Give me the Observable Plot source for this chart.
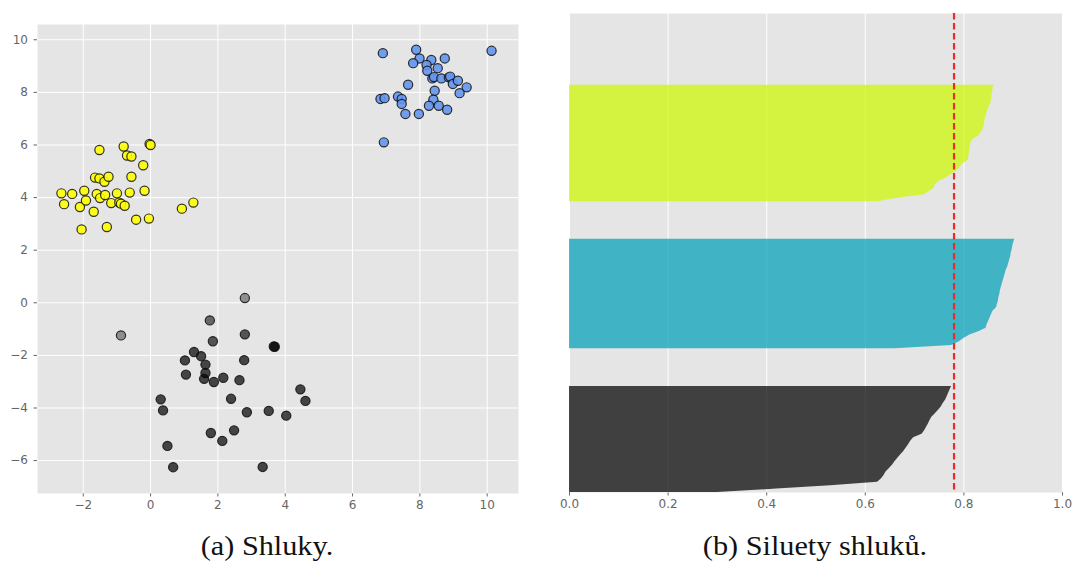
<!DOCTYPE html>
<html>
<head>
<meta charset="utf-8">
<script src="https://cdn.jsdelivr.net/npm/d3@7"></script>
<script src="https://cdn.jsdelivr.net/npm/@observablehq/plot@0.6"></script>
<style>
  body { margin: 0; background: #fff; }
  #fig { position: relative; width: 1072px; height: 570px; overflow: hidden; }
  #left, #right { position: absolute; top: 0; }
  #left { left: 0; }
  #right { left: 536px; }
</style>
</head>
<body>
<div id="fig">
  <div id="left"></div>
  <div id="right"></div>
  <div style="position:absolute;top:531px;left:267px;font-family:'Liberation Serif',serif;font-size:27px;line-height:30px;color:#111;white-space:nowrap;transform:translateX(-50%) scaleX(1.12)">(a) Shluky.</div>
  <div style="position:absolute;top:531px;left:815px;font-family:'Liberation Serif',serif;font-size:27px;line-height:30px;color:#111;white-space:nowrap;transform:translateX(-50%) scaleX(1.12)">(b) Siluety shluků.</div>
</div>
<script>
// ---- (a) cluster scatter ----
const xTicks = [-2, 0, 2, 4, 6, 8, 10];
const yTicks = [-6, -4, -2, 0, 2, 4, 6, 8, 10];

const yellowX = [-1.52, -0.80, -0.03, 0.00, -0.70, -0.57, -0.22, -1.65, -1.52, -1.37, -1.25, -0.57,
  -2.65, -2.33, -1.97, -1.60, -1.50, -1.35, -1.00, -0.62, -0.18, -2.57, -2.10, -1.92, -1.17, -0.93,
  -0.88, -0.77, -1.69, -0.43, -0.05, 0.93, 1.27, -2.05, -1.30];
const yellowY = [5.81, 5.94, 6.04, 6.00, 5.60, 5.56, 5.23, 4.76, 4.73, 4.60, 4.79, 4.79,
  4.16, 4.14, 4.26, 4.14, 3.98, 4.10, 4.16, 4.19, 4.26, 3.75, 3.64, 3.89, 3.79, 3.81,
  3.77, 3.69, 3.46, 3.16, 3.20, 3.58, 3.81, 2.79, 2.88];

const blueX = [6.90, 7.89, 10.13, 7.99, 7.80, 8.34, 8.74, 8.20, 8.53, 8.22, 8.37, 8.42, 8.64, 8.86,
  8.90, 8.98, 9.13, 9.39, 9.18, 7.65, 8.44, 6.83, 6.95, 7.35, 7.46, 7.46, 8.40, 8.27, 8.56, 8.81,
  7.57, 7.97, 6.93];
const blueY = [9.49, 9.62, 9.58, 9.29, 9.11, 9.23, 9.29, 9.04, 8.92, 8.82, 8.53, 8.58, 8.53, 8.57,
  8.60, 8.32, 8.44, 8.19, 7.97, 8.29, 8.06, 7.75, 7.78, 7.84, 7.75, 7.56, 7.72, 7.49, 7.49, 7.34,
  7.18, 7.18, 6.10];

const darkX = [2.80, -0.88, 1.76, 2.80, 1.85, 3.66, 3.69, 1.29, 1.50, 1.02, 2.78, 1.63, 1.63, 1.05,
  1.59, 1.88, 2.16, 2.64, 4.45, 4.60, 0.30, 0.37, 2.39, 2.86, 3.51, 4.03, 1.79, 2.48, 2.13, 0.50,
  0.67, 3.33];
const darkY = [0.18, -1.24, -0.67, -1.20, -1.46, -1.66, -1.67, -1.87, -2.03, -2.19, -2.18, -2.35,
  -2.67, -2.73, -2.89, -3.01, -2.85, -2.94, -3.29, -3.73, -3.67, -4.09, -3.65, -4.16, -4.11, -4.29,
  -4.95, -4.85, -5.25, -5.44, -6.25, -6.24];
// fill opacity of each dark point (outliers are drawn paler)
const darkAlpha = [0.38, 0.38, 0.55, 0.63, 0.63, 0.7, 0.7, 0.7, 0.7, 0.7, 0.7, 0.7, 0.7, 0.7, 0.7, 0.7,
  0.7, 0.7, 0.7, 0.7, 0.7, 0.7, 0.7, 0.7, 0.7, 0.7, 0.7, 0.7, 0.7, 0.7, 0.7, 0.7];

// ---- (b) silhouette values per cluster, sorted ascending ----
const silDark = [0.30, 0.42, 0.53, 0.625, 0.633, 0.638, 0.642, 0.649, 0.655, 0.660, 0.666, 0.672,
  0.678, 0.683, 0.688, 0.692, 0.698, 0.715, 0.720, 0.724, 0.728, 0.731, 0.735, 0.742, 0.748, 0.754,
  0.758, 0.763, 0.766, 0.769, 0.772, 0.775];
const silCyan = [0.66, 0.775, 0.79, 0.80, 0.812, 0.83, 0.845, 0.847, 0.85, 0.853, 0.856, 0.859,
  0.866, 0.868, 0.870, 0.871, 0.873, 0.874, 0.876, 0.878, 0.880, 0.882, 0.884, 0.886, 0.889, 0.891,
  0.893, 0.895, 0.896, 0.898, 0.899, 0.901, 0.903];
const silYellow = [0.625, 0.665, 0.72, 0.73, 0.74, 0.742, 0.75, 0.765, 0.775, 0.786, 0.792, 0.797,
  0.808, 0.810, 0.811, 0.812, 0.813, 0.814, 0.817, 0.828, 0.834, 0.838, 0.841, 0.842, 0.843, 0.845,
  0.847, 0.849, 0.852, 0.855, 0.856, 0.857, 0.858, 0.859, 0.861];
const silAverage = 0.78;
const silTicks = [0, 0.2, 0.4, 0.6, 0.8, 1.0];

const bg = "#e5e5e5";
const minus = d => (d < 0 ? "\u2212" + Math.abs(d) : String(d));
const zip = (xs, ys) => xs.map((x, i) => ({x, y: ys[i], i}));

const dotStyle = {x: "x", y: "y", r: 4.6, stroke: "#111", strokeOpacity: 0.85, strokeWidth: 1.2};
const axisStyle = {fontFamily: "DejaVu Sans", fontSize: "12px", color: "#666", background: "transparent"};

const left = Plot.plot({
  width: 536, height: 520,
  marginLeft: 37, marginRight: 18, marginTop: 24, marginBottom: 27,
  style: axisStyle,
  x: {domain: [-3.36, 10.93], ticks: xTicks, tickFormat: minus, tickSize: 3.5, tickPadding: 3, label: null},
  y: {domain: [-7.25, 10.58], ticks: yTicks, tickFormat: minus, tickSize: 3.5, tickPadding: 6, label: null},
  marks: [
    Plot.frame({fill: bg, stroke: "none"}),
    Plot.ruleX(xTicks, {stroke: "white", strokeWidth: 1}),
    Plot.ruleY(yTicks, {stroke: "white", strokeWidth: 1}),
    Plot.dot(zip(yellowX, yellowY), {...dotStyle, fill: "#ffff00", fillOpacity: 0.88}),
    Plot.dot(zip(blueX, blueY), {...dotStyle, fill: "#6495ed", fillOpacity: 0.9}),
    Plot.dot(zip(darkX, darkY), {...dotStyle, fill: "#000", fillOpacity: d => darkAlpha[d.i]})
  ],
  opacity: {type: "identity"}
});
document.getElementById("left").append(left);

// stack the clusters bottom-up with a gap of 10 samples between them
const clusters = [
  {name: "0", values: silDark, color: "#000000"},
  {name: "1", values: silCyan, color: "#009fb7"},
  {name: "2", values: silYellow, color: "#cdf800"}
];
let yLower = 0;
for (const c of clusters) {
  c.rows = c.values.map((v, i) => ({u: yLower + i, v}));
  yLower += c.values.length + 10;
}

const right = Plot.plot({
  width: 536, height: 520,
  marginLeft: 33, marginRight: 10, marginTop: 13, marginBottom: 28,
  style: axisStyle,
  x: {domain: [0, 1], ticks: silTicks, tickFormat: d3.format(".1f"), tickSize: 3.5, tickPadding: 3, label: null},
  y: {domain: [0, 140], axis: null},
  marks: [
    Plot.frame({fill: bg, stroke: "none"}),
    Plot.ruleX(silTicks, {stroke: "white", strokeWidth: 1}),
    ...clusters.map(c => Plot.areaX(c.rows, {y: "u", x: "v", fill: c.color, fillOpacity: 0.72, curve: "linear"})),
    Plot.ruleX([silAverage], {stroke: "#ee2a2a", strokeWidth: 2.2, strokeDasharray: "6.5,3.5"})
  ]
});
document.getElementById("right").append(right);
</script>
</body>
</html>
